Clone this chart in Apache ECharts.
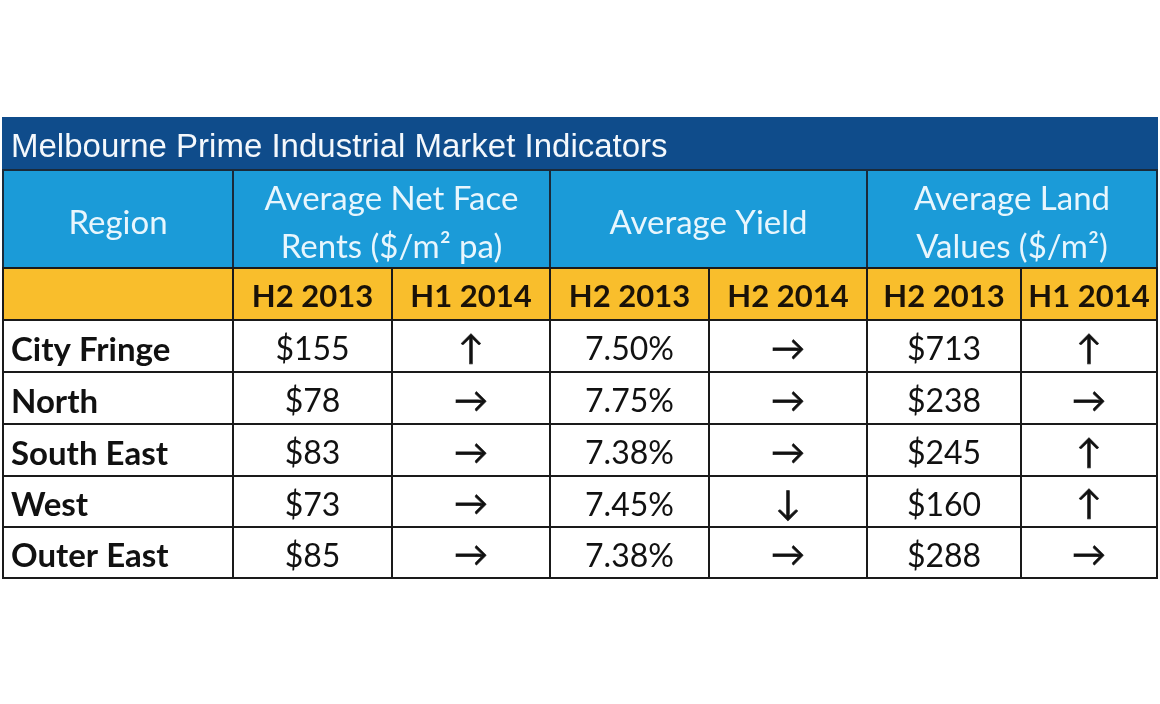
<!DOCTYPE html>
<html>
<head>
<meta charset="utf-8">
<script src="https://cdn.jsdelivr.net/npm/echarts@6/dist/echarts.min.js"></script>
<style>
  html, body { margin: 0; padding: 0; background: #fff; }
  #chart { width: 1160px; height: 704px; }
</style>
</head>
<body>
<div id="chart"></div>
<script>
// table content
const title = 'Melbourne Prime Industrial Market Indicators';
const groupHeaders = ['Region', 'Average Net Face\nRents ($/m² pa)', 'Average Yield', 'Average Land\nValues ($/m²)'];
const periods = ['H2 2013', 'H1 2014', 'H2 2013', 'H2 2014', 'H2 2013', 'H1 2014'];
const regions = ['City Fringe', 'North', 'South East', 'West', 'Outer East'];
const rents = ['$155', '$78', '$83', '$73', '$85'];
const rentTrend = ['↑', '→', '→', '→', '→'];
const yields = ['7.50%', '7.75%', '7.38%', '7.45%', '7.38%'];
const yieldTrend = ['→', '→', '→', '↓', '→'];
const landValues = ['$713', '$238', '$245', '$160', '$288'];
const landTrend = ['↑', '→', '↑', '↑', '→'];

// layout (pixel edges of the table grid)
const colEdges = [3, 233, 392, 550, 709, 867, 1021, 1157];
const rowEdges = [118, 170, 268, 320, 372, 424, 476, 527, 578];

const NAVY = '#0f4c8b';
const BLUE = '#1b9bd8';
const YELLOW = '#f9be2c';

// cells: [c0, c1, r0, r1, text, kind]
const cells = [];
cells.push([0, 7, 0, 1, title, 'title']);
[[0, 1], [1, 3], [3, 5], [5, 7]].forEach((span, i) => {
  cells.push([span[0], span[1], 1, 2, groupHeaders[i], 'group']);
});
cells.push([0, 1, 2, 3, '', 'period']);
periods.forEach((p, i) => cells.push([i + 1, i + 2, 2, 3, p, 'period']));
regions.forEach((r, i) => {
  const row = [r, rents[i], rentTrend[i], yields[i], yieldTrend[i], landValues[i], landTrend[i]];
  row.forEach((t, c) => {
    const kind = c === 0 ? 'region' : (c % 2 === 0 ? 'arrow' : 'data');
    cells.push([c, c + 1, 3 + i, 4 + i, t, kind]);
  });
});

const styles = {
  title: { fill: NAVY, color: '#f4f8fc', font: '33px "Liberation Sans", Arial, sans-serif', align: 'left', stroke: NAVY, dy: 4 },
  group: { fill: BLUE, color: '#e8f6fd', font: '33px Lato, "Open Sans", sans-serif', align: 'center', stroke: '#1a2a3a', lh: 48, dy: 4 },
  period: { fill: YELLOW, color: '#1a1208', font: 'bold 31px Lato, "Open Sans", sans-serif', align: 'center', stroke: '#1a1a1a', dy: 3 },
  region: { fill: '#ffffff', color: '#111', font: 'bold 33px Lato, "Open Sans", sans-serif', align: 'left', stroke: '#1a1a1a', dy: 4 },
  data: { fill: '#ffffff', color: '#111', font: '32px Lato, "Open Sans", sans-serif', align: 'center', stroke: '#1a1a1a', dy: 4 },
  arrow: { fill: '#ffffff', color: '#111', font: '34px Lato, "Open Sans", sans-serif', align: 'center', stroke: '#1a1a1a', dy: 3 }
};

function renderItem(params, api) {
  const d = cells[params.dataIndex];
  const s = styles[d[5]];
  const p0 = api.coord([colEdges[d[0]], rowEdges[d[2]]]);
  const p1 = api.coord([colEdges[d[1]], rowEdges[d[3]]]);
  const x = p0[0], y = p0[1], w = p1[0] - p0[0], h = p1[1] - p0[1];
  const tx = s.align === 'left' ? x + 8 : x + w / 2;
  return {
    type: 'group',
    children: [
      { type: 'rect', shape: { x: x, y: y, width: w, height: h },
        style: { fill: s.fill, stroke: s.stroke, lineWidth: 2 } },
      { type: 'text', x: tx, y: y + h / 2 + s.dy,
        style: { text: d[4], font: s.font, fill: s.color, align: s.align,
                 verticalAlign: 'middle', lineHeight: s.lh || 36,
                 stroke: s === styles.arrow ? s.color : null, lineWidth: 0.6 } }
    ]
  };
}

const chart = echarts.init(document.getElementById('chart'));
chart.setOption({
  animation: false,
  grid: { left: 0, right: 0, top: 0, bottom: 0 },
  xAxis: { type: 'value', min: 0, max: 1160, show: false },
  yAxis: { type: 'value', min: 0, max: 704, inverse: true, show: false },
  series: [{
    type: 'custom',
    renderItem: renderItem,
    data: cells.map(c => [colEdges[c[0]], rowEdges[c[2]]]),
    silent: true
  }]
});
</script>
</body>
</html>
